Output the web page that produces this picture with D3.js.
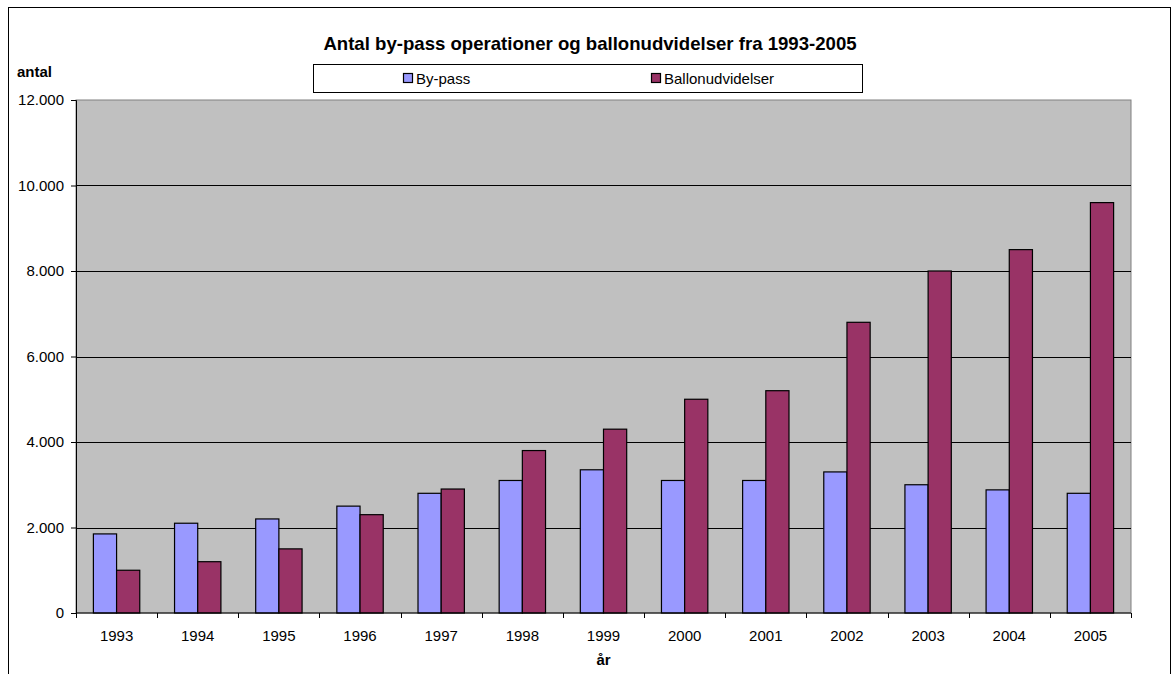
<!DOCTYPE html>
<html>
<head>
<meta charset="utf-8">
<script src="https://cdn.jsdelivr.net/npm/d3@7"></script>
<style>
  body { margin: 0; background: #fff; }
  text { font-family: "Liberation Sans", Arial, sans-serif; fill: #000; }
</style>
</head>
<body>
<div id="chart"></div>
<script>
// data
const years = ['1993', '1994', '1995', '1996', '1997', '1998', '1999',
  '2000', '2001', '2002', '2003', '2004', '2005'];
const seriesNames = ['By-pass', 'Ballonudvidelser'];
const bypass = [1850, 2100, 2200, 2500, 2800, 3100, 3350, 3100, 3100, 3300, 3000, 2880, 2800];
const ballon = [1000, 1200, 1500, 2300, 2900, 3800, 4300, 5000, 5200, 6800, 8000, 8500, 9600];
const yTicks = [0, 2000, 4000, 6000, 8000, 10000, 12000];
const colors = ['#9999FF', '#993366'];

const width = 1176;
const height = 674;
const margin = {top: 100, right: 45, bottom: 61, left: 76};
const innerW = width - margin.left - margin.right;
const innerH = height - margin.top - margin.bottom;

const rows = years.map((y, i) => ({year: y, values: [bypass[i], ballon[i]]}));

const svg = d3.select('#chart').append('svg')
    .attr('width', width)
    .attr('height', height);

// chart frame
svg.append('rect')
    .attr('x', 8.5).attr('y', 7.5)
    .attr('width', 1162).attr('height', 700)
    .attr('fill', 'none')
    .attr('stroke', '#000')
    .attr('stroke-width', 1);

const x = d3.scaleBand()
    .domain(years)
    .range([0, innerW]);

// excel gap width 150%
const gap = x.step() * 1.5 / 3.5;
const x1 = d3.scaleBand()
    .domain(seriesNames)
    .range([gap / 2, x.step() - gap / 2]);

const y = d3.scaleLinear()
    .domain([0, 12000])
    .range([innerH, 0]);

const g = svg.append('g')
    .attr('transform', `translate(${margin.left},${margin.top})`);

g.append('rect')
    .attr('width', innerW)
    .attr('height', innerH)
    .attr('fill', '#C0C0C0')
    .attr('stroke', '#808080')
    .attr('stroke-width', 1);

g.append('g')
  .selectAll('line')
  .data(yTicks.slice(1, -1))
  .join('line')
    .attr('x1', 0)
    .attr('x2', innerW)
    .attr('y1', d => Math.round(y(d)) + 0.5)
    .attr('y2', d => Math.round(y(d)) + 0.5)
    .attr('stroke', '#000')
    .attr('stroke-width', 1);

const groups = g.append('g')
  .selectAll('g')
  .data(rows)
  .join('g')
    .attr('transform', d => `translate(${x(d.year)},0)`);

groups.selectAll('rect')
  .data(d => d.values.map((v, i) => ({key: seriesNames[i], value: v, i})))
  .join('rect')
    .attr('x', d => x1(d.key))
    .attr('y', d => y(d.value))
    .attr('width', x1.bandwidth())
    .attr('height', d => innerH - y(d.value))
    .attr('fill', d => colors[d.i])
    .attr('stroke', '#000')
    .attr('stroke-width', 1.2);

// y axis
g.append('g')
    .call(d3.axisLeft(y)
      .tickValues(yTicks)
      .tickSize(5)
      .tickFormat(d => d3.format(',')(d).replace(/,/g, '.')))
    .call(a => a.select('.domain').attr('stroke', '#000'))
    .call(a => a.selectAll('text')
      .attr('font-size', 15)
      .attr('x', -12)
      .attr('font-family', '"Liberation Sans", Arial, sans-serif'));

// x axis, ticks between categories
const xAxis = g.append('g')
    .attr('transform', `translate(0,${innerH})`);
xAxis.append('line')
    .attr('x1', 0).attr('x2', innerW)
    .attr('stroke', '#000');
xAxis.selectAll('line.tick')
  .data(d3.range(years.length + 1))
  .join('line')
    .attr('class', 'tick')
    .attr('x1', i => Math.round(i * x.step()) + 0.5)
    .attr('x2', i => Math.round(i * x.step()) + 0.5)
    .attr('y1', 0)
    .attr('y2', 5)
    .attr('stroke', '#000');
xAxis.selectAll('text')
  .data(years)
  .join('text')
    .attr('x', d => x(d) + x.bandwidth() / 2)
    .attr('y', 28)
    .attr('text-anchor', 'middle')
    .attr('font-size', 15)
    .text(d => d);

// titles
svg.append('text')
    .attr('x', 590)
    .attr('y', 50)
    .attr('text-anchor', 'middle')
    .attr('font-size', 18.6)
    .attr('font-weight', 'bold')
    .text('Antal by-pass operationer og ballonudvidelser fra 1993-2005');

svg.append('text')
    .attr('x', 17)
    .attr('y', 77)
    .attr('font-size', 15)
    .attr('font-weight', 'bold')
    .text('antal');

svg.append('text')
    .attr('x', margin.left + innerW / 2)
    .attr('y', 665)
    .attr('text-anchor', 'middle')
    .attr('font-size', 15)
    .attr('font-weight', 'bold')
    .text('år');

// legend
const legend = svg.append('g')
    .attr('transform', 'translate(313,64)');
legend.append('rect')
    .attr('x', 0.5).attr('y', 0.5)
    .attr('width', 549).attr('height', 28)
    .attr('fill', '#fff')
    .attr('stroke', '#000');
const legendX = [90, 338];
const items = legend.selectAll('g.item')
  .data(seriesNames)
  .join('g')
    .attr('class', 'item')
    .attr('transform', (d, i) => `translate(${legendX[i]},9)`);
items.append('rect')
    .attr('x', 0.5).attr('y', 0.5)
    .attr('width', 9).attr('height', 9)
    .attr('fill', (d, i) => colors[i])
    .attr('stroke', '#000')
    .attr('stroke-width', 1.2);
items.append('text')
    .attr('x', 13)
    .attr('y', 11)
    .attr('font-size', 15)
    .text(d => d);
</script>
</body>
</html>
